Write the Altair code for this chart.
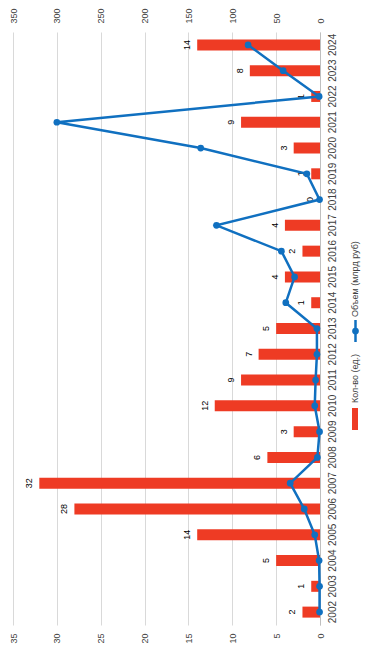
import altair as alt
import pandas as pd

years = [str(y) for y in range(2002, 2025)]
counts = [2, 1, 5, 14, 28, 32, 6, 3, 12, 9, 7, 5, 1, 4, 2, 4, 0, 1, 3, 9, 1, 8, 14]
volumes = [0.5, 0.5, 1, 6, 18, 34, 3, 0.5, 6, 5, 3.5, 3.5, 39, 29, 44, 118, 0.5, 15, 136, 300, 1, 42, 82]
count_ticks = [0, 5, 10, 15, 20, 25, 30, 35]
volume_ticks = [0, 50, 100, 150, 200, 250, 300, 350]
legend_labels = ["Кол-во (ед.)", "Объем (млрд руб)"]

df = pd.DataFrame({"year": years, "count": counts, "volume": volumes})
dummy = pd.DataFrame({"k": [0]})

FONT = "Liberation Sans"
RED = "#EE3B24"
BLUE = "#1070C0"
W, H = 307, 593

ysc = alt.Scale(paddingInner=0, paddingOuter=0)
ysort = alt.SortField("year", order="descending")

y_axis = alt.Axis(orient="right", title=None, labelAngle=270, labelAlign="center",
                  labelBaseline="top", labelPadding=7, ticks=False, domain=True,
                  domainColor="#BFBFBF", grid=False, labelFont=FONT, labelFontSize=10,
                  labelColor="#404040")

count_scale = alt.Scale(domain=[0, 35], reverse=True, nice=False)
vol_scale = alt.Scale(domain=[0, 350], reverse=True, nice=False)

x_count = alt.X("count:Q", scale=count_scale,
                axis=alt.Axis(orient="bottom", title=None, values=count_ticks, labelAngle=270,
                              labelAlign="right", labelBaseline="middle", labelPadding=8,
                              ticks=False, domain=False, grid=True, gridColor="#D9D9D9",
                              labelFont=FONT, labelFontSize=9, labelColor="#404040"))

bars = alt.Chart(df).mark_bar(size=11, color=RED).encode(
    y=alt.Y("year:O", sort=ysort, scale=ysc, axis=y_axis),
    x=x_count,
)

labels = alt.Chart(df).mark_text(angle=270, align="center", baseline="alphabetic", dy=-7,
                                 font=FONT, fontSize=9, color="#000000").encode(
    y=alt.Y("year:O", sort=ysort, scale=ysc, axis=None),
    x=alt.X("count:Q", scale=count_scale, axis=None),
    text="count:Q",
)

x_vol = alt.X("volume:Q", scale=vol_scale,
              axis=alt.Axis(orient="top", title=None, values=volume_ticks, labelAngle=270,
                            labelAlign="left", labelBaseline="middle", labelPadding=9,
                            ticks=False, domain=False, grid=False,
                            labelFont=FONT, labelFontSize=9, labelColor="#404040"))

line = alt.Chart(df).mark_line(color=BLUE, strokeWidth=2.5).encode(
    y=alt.Y("year:O", sort=ysort, scale=ysc, axis=None),
    x=x_vol,
)
pts = alt.Chart(df).mark_point(filled=True, color=BLUE, size=45, opacity=1).encode(
    y=alt.Y("year:O", sort=ysort, scale=ysc, axis=None),
    x=alt.X("volume:Q", scale=vol_scale, axis=None),
)

# legend (drawn manually, rotated like the rest of the chart)
leg_rect = alt.Chart(dummy).mark_rect(color=RED).encode(
    x=alt.value(339), x2=alt.value(345), y=alt.value(376), y2=alt.value(398))
leg_t1 = alt.Chart(dummy).mark_text(angle=270, align="left", baseline="middle",
                                    font=FONT, fontSize=9, color="#404040").encode(
    x=alt.value(342), y=alt.value(371), text=alt.value(legend_labels[0]))
leg_line = alt.Chart(dummy).mark_rule(color=BLUE, strokeWidth=2.5).encode(
    x=alt.value(342.5), y=alt.value(288), y2=alt.value(310))
leg_pt = alt.Chart(dummy).mark_point(filled=True, color=BLUE, size=45, opacity=1).encode(
    x=alt.value(342.5), y=alt.value(299))
leg_t2 = alt.Chart(dummy).mark_text(angle=270, align="left", baseline="middle",
                                    font=FONT, fontSize=9, color="#404040").encode(
    x=alt.value(342), y=alt.value(285), text=alt.value(legend_labels[1]))

chart = alt.layer(bars, labels, line, pts, leg_rect, leg_t1, leg_line, leg_pt, leg_t2).resolve_scale(
    x="independent"
).resolve_axis(
    x="independent", y="independent"
).properties(
    width=W, height=H,
    padding={"left": 5, "top": 24, "right": 43, "bottom": 20},
    autosize=alt.AutoSizeParams(type="none"),
    background="white",
).configure_view(stroke=None)

chart.save("out.html", embed_options={"renderer": "svg", "actions": False})
